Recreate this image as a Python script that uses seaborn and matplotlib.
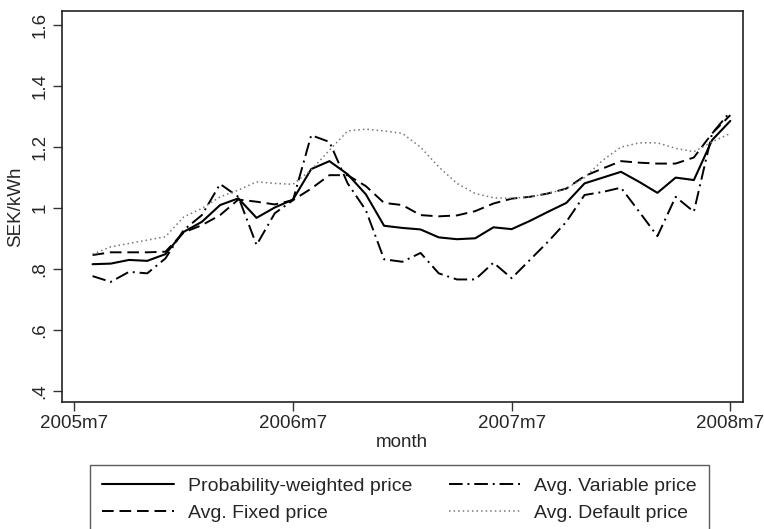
import numpy as np
import pandas as pd
import matplotlib
matplotlib.use("Agg")
import matplotlib.pyplot as plt
import seaborn as sns

# ---- data ----
month_labels = [f"{p.year}m{p.month}"
                for p in pd.period_range("2005-08", "2008-07", freq="M")]
tick_labels_x = ["2005m7", "2006m7", "2007m7", "2008m7"]
tick_labels_y = [".4", ".6", ".8", "1", "1.2", "1.4", "1.6"]

prob_weighted = [0.816, 0.818, 0.830, 0.827, 0.849, 0.922, 0.955, 1.010, 1.032, 0.968,
                 1.002, 1.028, 1.128, 1.154, 1.111, 1.045, 0.942, 0.935, 0.930, 0.904,
                 0.898, 0.901, 0.937, 0.931, 0.958, 0.988, 1.017, 1.081, 1.100, 1.119,
                 1.086, 1.050, 1.100, 1.092, 1.223, 1.286]
avg_fixed = [0.846, 0.855, 0.855, 0.855, 0.857, 0.920, 0.944, 0.977, 1.028, 1.021,
             1.012, 1.026, 1.064, 1.108, 1.108, 1.072, 1.017, 1.010, 0.977, 0.973,
             0.976, 0.990, 1.015, 1.031, 1.037, 1.048, 1.064, 1.105, 1.130, 1.154,
             1.149, 1.146, 1.146, 1.166, 1.245, 1.305]
avg_variable = [0.777, 0.758, 0.791, 0.786, 0.835, 0.928, 0.977, 1.079, 1.037, 0.879,
                0.983, 1.026, 1.239, 1.217, 1.081, 0.993, 0.832, 0.824, 0.853, 0.786,
                0.766, 0.766, 0.821, 0.770, 0.830, 0.890, 0.955, 1.043, 1.053, 1.067,
                0.988, 0.908, 1.037, 0.988, 1.245, 1.316]
avg_default = [0.849, 0.873, 0.884, 0.895, 0.906, 0.971, 0.999, 1.037, 1.059, 1.086,
               1.081, 1.078, 1.125, 1.190, 1.253, 1.259, 1.253, 1.245, 1.200, 1.135,
               1.081, 1.048, 1.034, 1.032, 1.037, 1.048, 1.064, 1.100, 1.157, 1.200,
               1.214, 1.214, 1.196, 1.185, 1.217, 1.245]

# month index relative to 2005m7
def midx(lbl):
    y, m = lbl.split("m")
    return (int(y) - 2005) * 12 + int(m) - 7

x = [midx(l) for l in month_labels]
xticks = [midx(l) for l in tick_labels_x]
yticks = [float(t) for t in tick_labels_y]

sns.set_style("ticks")
plt.rcParams["font.family"] = ["Liberation Sans", "DejaVu Sans"]

fig = plt.figure(figsize=(7.64, 5.29), dpi=100)
ax = fig.add_axes([0.0806, 0.240, 0.892, 0.739])

series = [
    ("Probability-weighted price", prob_weighted, "-", "black", 1.5),
    ("Avg. Fixed price", avg_fixed, (0, (6, 3)), "black", 1.4),
    ("Avg. Variable price", avg_variable, (0, (7, 2.5, 1, 2.5)), "black", 1.4),
    ("Avg. Default price", avg_default, (0, (1, 2)), "#777777", 1.1),
]
for name, vals, ls, col, lw in series:
    sns.lineplot(x=x, y=vals, ax=ax, color=col, linewidth=lw, linestyle=ls, label=name)

ax.set_xlim(-0.7, 36.7)
ax.set_ylim(0.364, 1.646)
ax.set_xticks(xticks)
ax.set_xticklabels(tick_labels_x, fontsize=13.5)
ax.set_yticks(yticks)
ax.set_yticklabels(tick_labels_y, fontsize=13.5, rotation=90, va="center")
ax.tick_params(direction="out", length=6.5, width=1, color="#333333", pad=3)
for s in ax.spines.values():
    s.set_color("#222222")
    s.set_linewidth(1.2)
ax.set_xlabel("month", fontsize=13.5, labelpad=1)
ax.set_ylabel("SEK/kWh", fontsize=13.5, labelpad=5)

handles, labels = ax.get_legend_handles_labels()
ax.get_legend().remove()
leg = fig.legend(handles, labels, ncol=2, loc="upper left",
                 bbox_to_anchor=(0.1178, 0.0, 0.810, 0.121), mode="expand",
                 frameon=True, fancybox=False, fontsize=14, handlelength=3.7,
                 handletextpad=0.7, borderaxespad=0, labelspacing=0.5,
                 borderpad=0.62, columnspacing=1.0)
leg.get_frame().set_edgecolor("#333333")
leg.get_frame().set_linewidth(1.0)

fig.savefig("out.png", dpi=100)
